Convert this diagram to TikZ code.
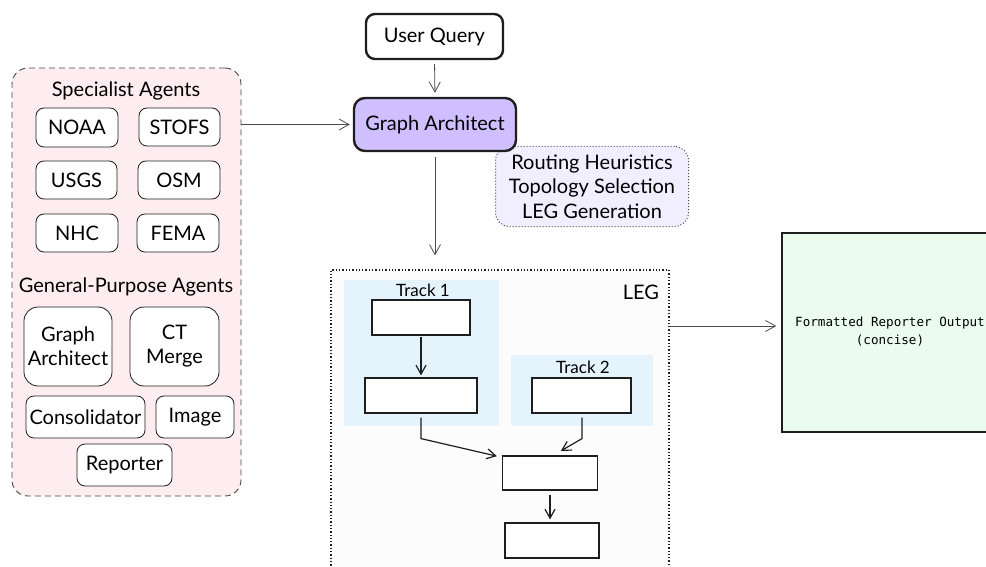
\documentclass[tikz,border=0pt]{standalone}
\usepackage{fontspec}
\setmainfont{Lato}
\setmonofont{DejaVu Sans Mono}
\usetikzlibrary{arrows.meta,calc}
\definecolor{inkdark}{HTML}{1E1E1E}
\definecolor{inkgray}{HTML}{4A4A4A}
\definecolor{pinkfill}{HTML}{FDEDF1}
\definecolor{lavender}{HTML}{D0BFFF}
\definecolor{lavlight}{HTML}{F1EFFF}
\definecolor{trackblue}{HTML}{E5F3FD}
\definecolor{mintfill}{HTML}{EBFBEE}
\definecolor{legfill}{HTML}{FCFCFC}
\tikzset{
  agentbox/.style={draw=inkdark, line width=0.8pt, rounded corners=8pt, fill=white,
    inner sep=0pt, align=center, font=\fontsize{20}{24}\selectfont},
  bigagent/.style={agentbox, rounded corners=14pt},
  heading/.style={inner sep=0pt, font=\fontsize{20}{24}\selectfont},
  plainbox/.style={draw=inkdark, line width=1.2pt, fill=white, inner sep=0pt},
  trackbg/.style={fill=trackblue, draw=none, inner sep=0pt},
  tracklabel/.style={inner sep=0pt, font=\fontsize{17}{20}\selectfont},
  grayarrow/.style={draw=inkgray, line width=0.8pt, -{Straight Barb[length=10pt,width=11pt]}},
  blackarrow/.style={draw=inkdark, line width=1.2pt, -{Straight Barb[length=9pt,width=10pt]}},
}
\begin{document}
\begin{tikzpicture}[x=1pt,y=-1pt]
\useasboundingbox (0,0) rectangle (986,567);
\clip (0,0) rectangle (986,567);

% ---------- agent catalogue ----------
\node[draw=inkgray, dash pattern=on 6pt off 4pt, line width=0.9pt, fill=pinkfill, rounded corners=16pt,
      minimum width=229pt, minimum height=428pt, inner sep=0pt] (agents) at (126.5,282) {};
\node[heading] (spechead) at (126,91) {Specialist Agents};
\node[agentbox, minimum width=82pt, minimum height=39pt] (noaa)  at (77,127.5) {NOAA};
\node[agentbox, minimum width=81pt, minimum height=38pt] (stofs) at (179.5,127) {STOFS};
\node[agentbox, minimum width=81pt, minimum height=38pt] (usgs)  at (76.5,180) {USGS};
\node[agentbox, minimum width=82pt, minimum height=38pt] (osm)   at (179,180) {OSM};
\node[agentbox, minimum width=82pt, minimum height=38pt] (nhc)   at (77,233) {NHC};
\node[agentbox, minimum width=82pt, minimum height=38pt] (fema)  at (178,233) {FEMA};
\node[heading] (genhead) at (126,287) {General-Purpose Agents};
\node[bigagent, minimum width=88pt, minimum height=79pt] (gasmall) at (68,346.5) {Graph\\Architect};
\node[bigagent, minimum width=89pt, minimum height=79pt] (ctmerge) at (174.5,346.5) {CT\\Merge};
\node[agentbox, minimum width=119pt, minimum height=42pt] (consol) at (85.5,417) {Consolidator};
\node[agentbox, minimum width=78pt, minimum height=42pt] (image) at (195,417) {Image};
\node[agentbox, minimum width=95pt, minimum height=42pt] (reporter) at (124.5,465) {Reporter};

% ---------- query and architect ----------
\node[draw=inkgray, dotted, line width=1pt, rounded corners=14pt, fill=lavlight, inner sep=0pt,
      minimum width=193pt, minimum height=80pt, align=center,
      font=\fontsize{20}{24.5}\selectfont] (notes) at (592,186.5)
      {Routing Heuristics\\Topology Selection\\LEG Generation};
\node[draw=inkdark, line width=2.4pt, rounded corners=9pt, fill=white, inner sep=0pt,
      minimum width=137pt, minimum height=45pt, font=\fontsize{20}{24}\selectfont] (query) at (434.5,36.5) {User Query};
\node[draw=inkdark, line width=2.4pt, rounded corners=11pt, fill=lavender, inner sep=0pt,
      minimum width=162pt, minimum height=53pt, font=\fontsize{20}{24}\selectfont] (arch) at (435,124.5) {Graph Architect};

% ---------- LEG ----------
\node[draw=inkdark, dotted, line width=1.3pt, fill=legfill, inner sep=0pt,
      minimum width=338pt, minimum height=320pt] (leg) at (500,430) {};
\node[inner sep=0pt, font=\fontsize{20}{24}\selectfont] (legtitle) at (641,292) {LEG};
\node[trackbg, minimum width=155pt, minimum height=146pt] (trackone) at (421.5,353) {};
\node[trackbg, minimum width=142pt, minimum height=71pt] (tracktwo) at (582,390.5) {};
\node[tracklabel] (t1label) at (423,290) {Track 1};
\node[tracklabel] (t2label) at (583,367) {Track 2};
\node[plainbox, minimum width=98pt, minimum height=35pt] (ta) at (421,317.5) {};
\node[plainbox, minimum width=112pt, minimum height=35pt] (tb) at (421,395.5) {};
\node[plainbox, minimum width=99pt, minimum height=35pt] (tc) at (581.5,395.5) {};
\node[plainbox, minimum width=95pt, minimum height=34pt] (merge) at (550,473) {};
\node[plainbox, minimum width=94pt, minimum height=35pt] (final) at (552,540.5) {};

% ---------- output ----------
\node[draw=inkdark, line width=1.4pt, fill=mintfill, inner sep=0pt,
      minimum width=218pt, minimum height=199pt] (out) at (891,332.5) {};
\node[inner sep=0pt, align=center, font=\ttfamily\fontsize{12.6}{18}\selectfont] (outtext) at (890,332)
      {Formatted Reporter Output\\(concise)};

% ---------- connectors ----------
\draw[grayarrow, shorten <=4pt, shorten >=4pt] (query.south) -- (arch.north);
\draw[grayarrow, shorten >=3pt] (agents.east |- arch.west) -- (arch.west);
\draw[grayarrow, shorten <=5pt, shorten >=14pt] (arch.south) -- (leg.north -| arch.south);
\path (out.west) ++(0,-6.5) coordinate (outin);
\draw[grayarrow, shorten >=5pt] (leg.east |- outin) -- (outin);

\draw[blackarrow, shorten <=1pt, shorten >=2pt] (ta.south) -- (tb.north);
\draw[blackarrow, shorten <=4pt, shorten >=1pt] (tb.south) -- ++(0,25) -- ($(merge.north west)+(-4,1)$);
\draw[blackarrow, shorten <=4pt, shorten >=1pt] ([xshift=0.5pt]tc.south) -- ++(0,25) -- ($(merge.north)+(10,-4)$);
\draw[blackarrow, shorten <=4pt, shorten >=3pt] (merge.south) -- (merge.south |- final.north);
\end{tikzpicture}
\end{document}
